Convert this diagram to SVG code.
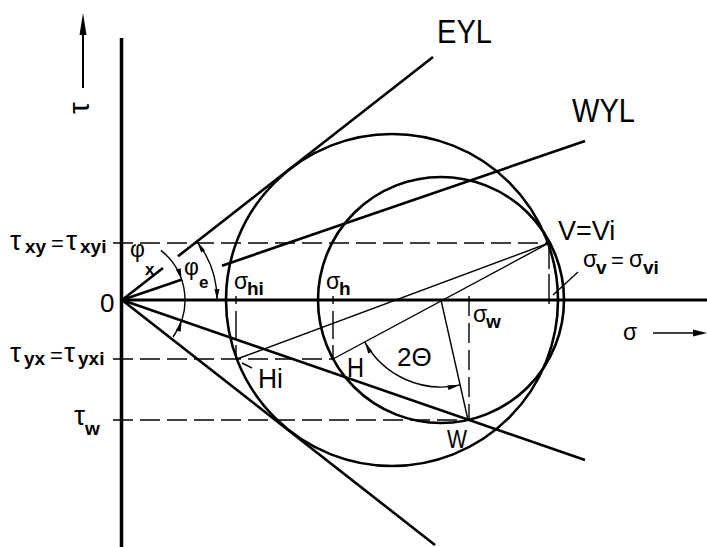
<svg xmlns="http://www.w3.org/2000/svg" width="707" height="547" viewBox="0 0 707 547">
<style>
.t{font-family:"Liberation Sans",Arial,sans-serif;fill:#000}
.s{font-family:"Liberation Sans",Arial,sans-serif;font-weight:bold;font-size:19px;fill:#000}
.thick{stroke:#000;stroke-width:2.6;fill:none}
.thin{stroke:#000;stroke-width:1.4;fill:none}
.dash{stroke:#000;stroke-width:1.4;fill:none;stroke-dasharray:20 7}
.ah{fill:#000;stroke:none}
</style>
<rect width="707" height="547" fill="#fff"/>
<g id="axes">
<line x1="121.5" y1="38" x2="121.5" y2="547" stroke="#000" stroke-width="3.5"/>
<line x1="121" y1="300" x2="707" y2="300" stroke="#000" stroke-width="3"/>
<line x1="83" y1="88" x2="83" y2="30" stroke="#000" stroke-width="2"/>
<polygon class="ah" points="83,13 86.5,35 79.5,35"/>
<line x1="653" y1="333" x2="695" y2="333" stroke="#000" stroke-width="1.6"/>
<polygon class="ah" points="707,333 693,329.5 693,336.5"/>
</g>
<g id="circles">
<circle cx="392" cy="300" r="166" class="thick"/>
<circle cx="441" cy="300" r="123" class="thick"/>
</g>
<g id="connectors">
<line x1="122" y1="300" x2="163" y2="268" class="thick"/>
<line x1="178" y1="256.3" x2="433" y2="57" class="thick"/>
<line x1="122" y1="300" x2="435" y2="545" class="thick"/>
<line x1="122" y1="300" x2="182" y2="279.4" class="thick"/>
<line x1="222" y1="265.7" x2="585" y2="141" class="thick"/>
<line x1="122" y1="300" x2="585" y2="460" class="thick"/>
<line x1="549" y1="243" x2="237" y2="359" class="thin"/>
<line x1="549" y1="243" x2="333" y2="359" class="thin"/>
<line x1="441" y1="300" x2="468" y2="420" class="thin"/>
<line x1="113" y1="243" x2="549" y2="243" class="dash"/>
<line x1="113" y1="359" x2="333" y2="359" class="dash"/>
<line x1="113" y1="420" x2="468" y2="420" class="dash"/>
<line x1="236" y1="296" x2="236" y2="359" class="dash" style="stroke-dasharray:8 7 28 6 14"/>
<line x1="333" y1="296" x2="333" y2="359" class="dash" style="stroke-dasharray:8 7 28 6 14"/>
<line x1="469" y1="296" x2="469" y2="420" class="dash"/>
<line x1="549" y1="243" x2="549" y2="310" class="dash" style="stroke-dasharray:26 5 30 6"/>
<line x1="553" y1="295" x2="578" y2="272" class="thin"/>
<line x1="252" y1="368" x2="242" y2="363" class="thin"/>
<path d="M160.8 250.4 A63 63 0 0 1 173 337" class="thin"/>
<polygon class="ah" points="181.6,279.5 180.7,268.2 175.9,269.8"/>
<polygon class="ah" points="181.6,320.5 180.7,331.8 175.9,330.2"/>
<path d="M197 241.6 A95 95 0 0 1 217 300" class="thin"/>
<polygon class="ah" points="197,241.6 205.1,250.5 201.1,252.3"/>
<polygon class="ah" points="217,300 214.5,289 219.5,289"/>
<path d="M364.6 341.7 A87 87 0 0 0 460 384.9" class="thin"/>
<polygon class="ah" points="364.6,341.7 372.3,351.3 368.3,353.5"/>
<polygon class="ah" points="460,384.9 448.5,390.1 447.4,385.3"/>
</g>
<g id="labels">
<text class="t" font-size="30" transform="translate(89,108) rotate(-90)" text-anchor="middle">τ</text>
<text class="t" font-size="34" x="437" y="43" textLength="55" lengthAdjust="spacingAndGlyphs">EYL</text>
<text class="t" font-size="34" x="572" y="122" textLength="63" lengthAdjust="spacingAndGlyphs">WYL</text>
<text class="t" font-size="28" x="10" y="250">τ</text><text class="s" x="25" y="253">xy</text>
<text class="t" font-size="22" x="51" y="251">=</text>
<text class="t" font-size="28" x="66" y="250">τ</text><text class="s" x="80" y="253">xyi</text>
<text class="t" font-size="26" x="100" y="312">0</text>
<text class="t" font-size="28" x="10" y="362">τ</text><text class="s" x="24" y="365">yx</text>
<text class="t" font-size="22" x="50" y="363">=</text>
<text class="t" font-size="28" x="64" y="362">τ</text><text class="s" x="78" y="365">yxi</text>
<text class="t" font-size="28" x="74" y="425">τ</text><text class="s" x="85" y="435">w</text>
<text class="t" font-size="23" x="130" y="257">φ</text><text class="s" x="145" y="275" style="font-size:17px">x</text>
<text class="t" font-size="23" x="184" y="275">φ</text><text class="s" x="199" y="288" style="font-size:17px">e</text>
<text class="t" font-size="23" x="234" y="289">σ</text><text class="s" x="247" y="295">hi</text>
<text class="t" font-size="23" x="326" y="289">σ</text><text class="s" x="339" y="295">h</text>
<text class="t" font-size="23" x="473" y="322">σ</text><text class="s" x="486" y="328">w</text>
<text class="t" font-size="27" x="558" y="240">V=Vi</text>
<text class="t" font-size="23" x="583" y="267">σ</text><text class="s" x="596" y="274">v</text>
<text class="t" font-size="22" x="611" y="268">=</text>
<text class="t" font-size="23" x="629" y="267">σ</text><text class="s" x="643" y="274">vi</text>
<text class="t" font-size="23" x="623" y="340">σ</text>
<text class="t" font-size="27" x="347" y="377" textLength="17" lengthAdjust="spacingAndGlyphs">H</text>
<text class="t" font-size="27" x="258" y="388" textLength="25" lengthAdjust="spacingAndGlyphs">Hi</text>
<text class="t" font-size="25" x="447" y="448" textLength="20" lengthAdjust="spacingAndGlyphs">W</text>
<text class="t" font-size="26" x="397" y="366">2Θ</text>
</g>
</svg>
